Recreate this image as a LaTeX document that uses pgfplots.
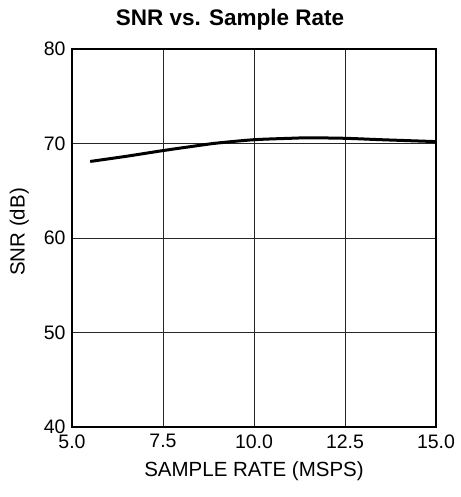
\documentclass[border=0pt]{standalone}
\usepackage{pgfplots}
\pgfplotsset{compat=1.18}
\usepackage{fontspec}
\setmainfont{Liberation Sans}
\begin{document}
\fontsize{19}{22}\selectfont
\begin{tikzpicture}
\path[use as bounding box] (-72pt,-70pt) rectangle (388pt,427pt);
\begin{axis}[
  at={(0,0)}, anchor=south west,
  scale only axis, width=364pt, height=378pt,
  xmin=5, xmax=15, ymin=40, ymax=80,
  xtick={5,7.5,10,12.5,15}, ytick={40,50,60,70,80},
  xticklabel={\pgfmathprintnumber[fixed,fixed zerofill,precision=1]{\tick}},
  /pgf/number format/assume math mode=true,
  grid=major, major grid style={black!85, line width=0.9pt},
  axis line style={line width=1.6pt},
  tick style={draw=none},
  xticklabel style={font=\fontsize{19.5}{22}\selectfont, yshift=-1pt},
  yticklabel style={font=\fontsize{19.5}{22}\selectfont},
  title={\bfseries SNR vs. Sample Rate},
  title style={font=\fontsize{22.5}{26}\selectfont, yshift=6pt, xshift=-24pt},
  xlabel={SAMPLE RATE (MSPS)},
  ylabel={SNR (dB)},
  label style={font=\fontsize{20.5}{24}\selectfont},
  ylabel style={yshift=2pt, xshift=6pt},
]
\addplot[black, line width=3pt, smooth] coordinates {
(5.5,68.1) (6.5,68.65) (7.5,69.25) (8.5,69.8) (9,70.05) (10,70.4) (11,70.55) (11.5,70.6) (12.5,70.55) (13.5,70.4) (15,70.2)
};
\end{axis}
\end{tikzpicture}
\end{document}
